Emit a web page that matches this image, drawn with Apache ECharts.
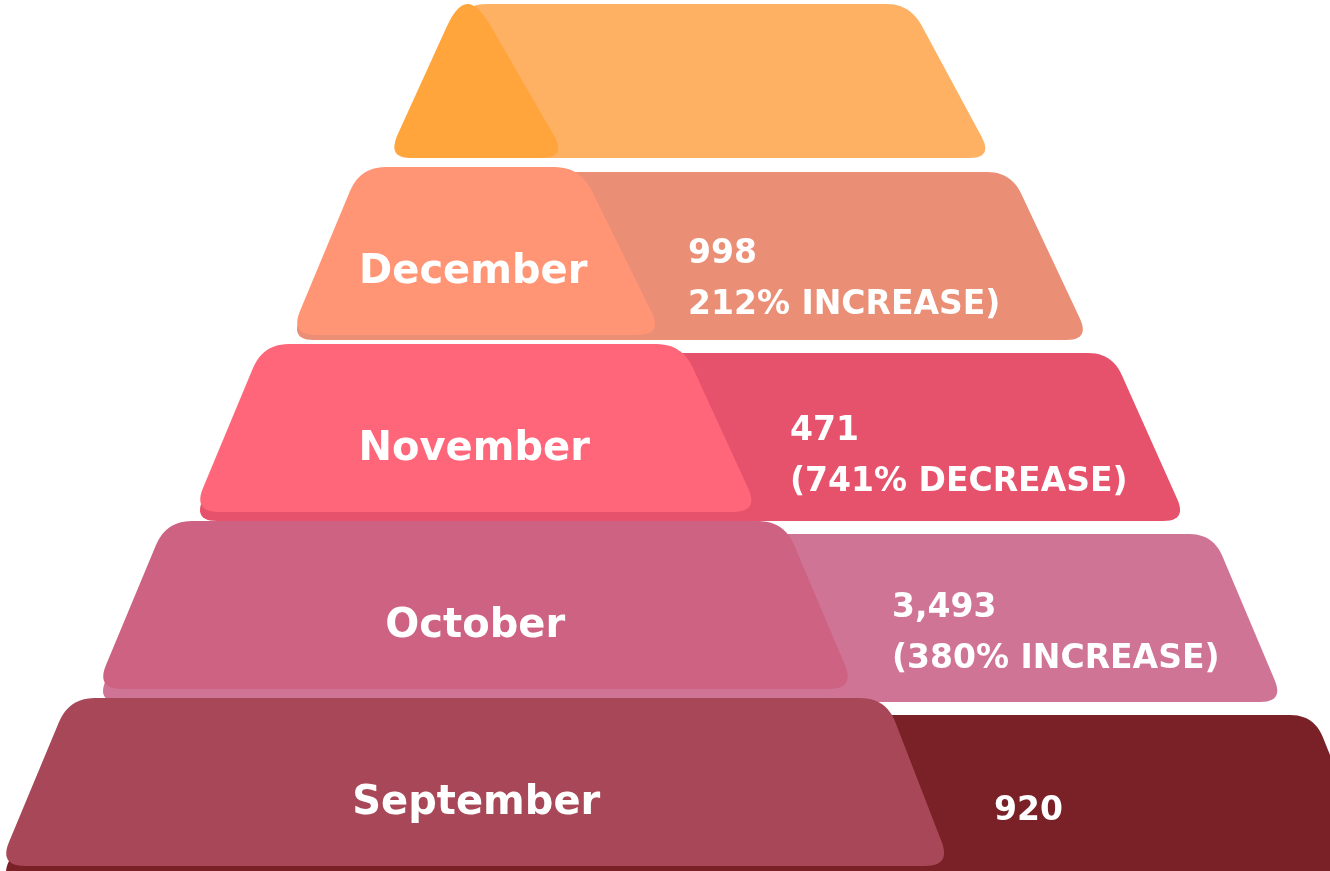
<!DOCTYPE html>
<html>
<head>
<meta charset="utf-8">
<script src="https://cdn.jsdelivr.net/npm/echarts@6/dist/echarts.min.js"></script>
<style>
  html, body { margin: 0; padding: 0; background: #fff; }
  #chart { width: 1330px; height: 871px; }
</style>
</head>
<body>
<div id="chart"></div>
<script>
// layers from top to bottom
const layers = ['', 'December', 'November', 'October', 'September'];
const values = [null, 998, 471, 3493, 920];
const changes = ['', '212% INCREASE)', '(741% DECREASE)', '(380% INCREASE)', ''];

const frontColors = ['#FFA53B', '#FF9575', '#FF6679', '#CE6282', '#A84757'];
const backColors = ['#FFB163', '#EA8E76', '#E6526B', '#D07495', '#7A2027'];

const FONT = '"DejaVu Sans", sans-serif';

// round the corners of a polygon by sampling quadratic curves
function roundPoly(pts, r) {
  const out = [];
  const n = pts.length;
  for (let k = 0; k < n; k++) {
    const p0 = pts[(k - 1 + n) % n], p1 = pts[k], p2 = pts[(k + 1) % n];
    const a = toward(p1, p0, r), b = toward(p1, p2, r);
    for (let s = 0; s <= 12; s++) {
      const t = s / 12;
      out.push([
        (1 - t) * (1 - t) * a[0] + 2 * (1 - t) * t * p1[0] + t * t * b[0],
        (1 - t) * (1 - t) * a[1] + 2 * (1 - t) * t * p1[1] + t * t * b[1]
      ]);
    }
  }
  return out;
}
function toward(p, q, r) {
  const dx = q[0] - p[0], dy = q[1] - p[1];
  const len = Math.sqrt(dx * dx + dy * dy);
  const d = Math.min(r, len / 2);
  return [p[0] + dx / len * d, p[1] + dy / len * d];
}

const mChart = echarts.init(document.getElementById('chart'));

function renderItem(params, api) {
  const i = api.value(0);
  const c = api.coord([0, i])[1];
  const X = v => api.coord([v, i])[0];

  // back slab, sits a little lower than the front one
  const bTop = i === 0 ? c - 75 : c - 88 + 4 * i;
  const bBot = i === 0 ? c + 79 : c + 80 + 4 * i;
  const bBL = 387 - 97 * i, bBR = 993 + 97 * i;
  const bTL = bBL + 76, bTR = 910 + 101 * i;
  // front slab
  const fTop = i === 0 ? c - 75 : c - 89;
  const fBot = c + 79;
  const fBL = 387 - 97 * i, fTL = fBL + 70;
  const fTR = 478 + 102 * i, fBR = 567 + 96 * i;

  const back = roundPoly([[X(bTL), bTop], [X(bTR), bTop], [X(bBR), bBot], [X(bBL), bBot]], 24);
  const front = roundPoly([[X(fTL), fTop], [X(fTR), fTop], [X(fBR), fBot], [X(fBL), fBot]], 26);

  const children = [
    { type: 'polygon', shape: { points: back }, style: { fill: backColors[i] } },
    { type: 'polygon', shape: { points: front }, style: { fill: frontColors[i] } }
  ];
  const name = layers[i];
  if (name) {
    children.push({
      type: 'text',
      style: {
        text: name,
        x: X((fBL + fBR + fTL + fTR) / 4),
        y: c + 17,
        fill: '#fff',
        fontSize: 40,
        fontWeight: 'bold',
        fontFamily: FONT,
        align: 'center',
        verticalAlign: 'middle'
      }
    });
  }
  const v = api.value(1);
  if (v != null && !isNaN(v)) {
    const lines = [v.toLocaleString('en-US')];
    if (changes[i]) lines.push(changes[i]);
    children.push({
      type: 'text',
      style: {
        text: lines.join('\n'),
        x: X(fTR + 108),
        y: c + 24,
        fill: '#fff',
        fontSize: 33,
        fontWeight: 'bold',
        fontFamily: FONT,
        lineHeight: 51,
        align: 'left',
        verticalAlign: 'middle'
      }
    });
  }
  return { type: 'group', children: children };
}

const option = {
  animation: false,
  grid: { left: 0, right: 0, top: 0, bottom: 0 },
  xAxis: { type: 'value', min: 0, max: 1330, show: false },
  // layer index i sits at 79 + 177 * i px
  yAxis: { type: 'value', inverse: true, min: -0.4463, max: 4.4746, show: false },
  series: [{
    type: 'custom',
    renderItem: renderItem,
    clip: false,
    encode: { x: 1, y: 0 },
    data: layers.map((n, i) => [i, values[i] == null ? '-' : values[i]])
  }]
};
mChart.setOption(option);
</script>
</body>
</html>
